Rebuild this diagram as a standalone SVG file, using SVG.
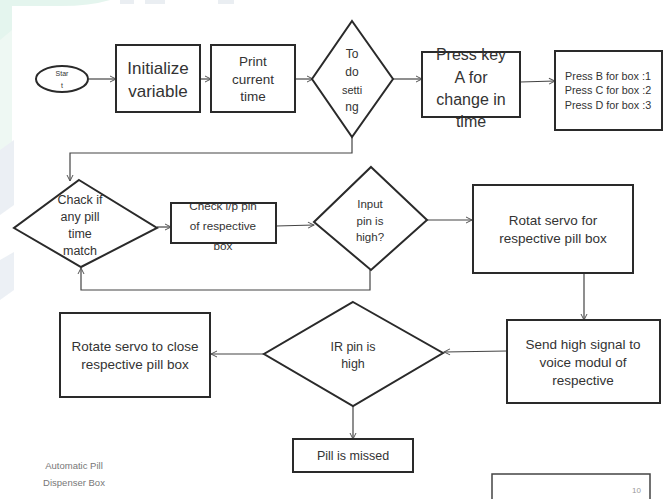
<svg xmlns="http://www.w3.org/2000/svg" width="668" height="499" viewBox="0 0 668 499">
<defs>
<marker id="ah" markerWidth="8" markerHeight="8" refX="7" refY="4" orient="auto" markerUnits="userSpaceOnUse">
<path d="M1,1 L7,4 L1,7" fill="none" stroke="#555" stroke-width="1"/>
</marker>
<style>
.n{fill:#fff;stroke:#2a2a2a;stroke-width:2}
.t{font-family:"Liberation Sans",Arial,sans-serif;fill:#333;text-anchor:middle}
.c{fill:none;stroke:#444;stroke-width:1.2}
.ca{fill:none;stroke:#444;stroke-width:1.2;marker-end:url(#ah)}
</style>
</defs>
<rect width="668" height="499" fill="#fff"/>
<g id="watermark" opacity="0.6">
<path d="M0,0 L110,0 Q90,6 60,6 L12,6 L12,60 L0,80 Z" fill="#d3efe3"/>
<path d="M0,40 L12,30 L12,160 L0,170 Z" fill="#e4f4ec"/>
<rect x="120" y="0" width="14" height="4" fill="#dde3ea"/>
<rect x="145" y="0" width="20" height="4" fill="#dde3ea"/>
<rect x="218" y="0" width="16" height="4" fill="#dde3ea"/>
<path d="M0,150 L14,140 L14,205 L0,215 Z" fill="#dfe6ee"/>
<path d="M0,260 L14,252 L14,290 L0,300 Z" fill="#dfe6ee"/>
</g>
<g id="connectors">
<path class="ca" d="M89,79 L116,79"/>
<path class="ca" d="M200,79 L211,79"/>
<path class="ca" d="M295,79 L313,79"/>
<path class="ca" d="M393,79 L422,79"/>
<path class="ca" d="M520,82 L555,81"/>
<path class="ca" d="M352,137 L352,153 L70,153 L70,181"/>
<path class="ca" d="M157,227 L171,227"/>
<path class="ca" d="M276,226 L314,225"/>
<path class="ca" d="M370,270 L370,290 L81,290 L81,268"/>
<path class="ca" d="M427,220 L472,220"/>
<path class="ca" d="M584,273 L584,320"/>
<path class="ca" d="M507,351 L444,352"/>
<path class="ca" d="M264,354 L211,354"/>
<path class="ca" d="M353,406 L353,439"/>
</g>
<g id="start">
<ellipse class="n" cx="62" cy="79" rx="26" ry="13"/>
<text class="t" x="62" y="76" font-size="7">Star</text>
<text class="t" x="62" y="88" font-size="7">t</text>
</g>
<g id="init">
<rect class="n" x="116" y="45" width="84" height="67"/>
<text class="t" x="158" y="74" font-size="17">Initialize</text>
<text class="t" x="158" y="97" font-size="17">variable</text>
</g>
<g id="print">
<rect class="n" x="211" y="45" width="84" height="67"/>
<text class="t" x="253" y="66" font-size="13.5">Print</text>
<text class="t" x="253" y="84" font-size="13.5">current</text>
<text class="t" x="253" y="101" font-size="13.5">time</text>
</g>
<g id="setting">
<polygon class="n" points="352,21 393,79 352,137 312,79"/>
<text class="t" x="352" y="58" font-size="12">To</text>
<text class="t" x="352" y="76" font-size="12">do</text>
<text class="t" x="352" y="94" font-size="11">setti</text>
<text class="t" x="352" y="111" font-size="12">ng</text>
</g>
<g id="presskey">
<rect class="n" x="422" y="52" width="98" height="65"/>
<text class="t" x="471" y="60" font-size="16">Press key</text>
<text class="t" x="471" y="83" font-size="16">A for</text>
<text class="t" x="471" y="105" font-size="16">change in</text>
<text class="t" x="471" y="127" font-size="16">time</text>
</g>
<g id="pressbox">
<rect class="n" x="555" y="51" width="107" height="79"/>
<text class="t" x="608" y="80" font-size="10.8">Press B for box :1</text>
<text class="t" x="608" y="94" font-size="10.8">Press C for box :2</text>
<text class="t" x="608" y="109" font-size="10.8">Press D for box :3</text>
</g>
<g id="checkmatch">
<polygon class="n" points="79,180 157,228 81,267 14,228"/>
<text class="t" x="80" y="204" font-size="12.5">Chack if</text>
<text class="t" x="80" y="221" font-size="12.5">any  pill</text>
<text class="t" x="80" y="238" font-size="12.5">time</text>
<text class="t" x="80" y="255" font-size="12.5">match</text>
</g>
<g id="checkpin">
<rect class="n" x="171" y="203" width="105" height="40"/>
<text class="t" x="223" y="210" font-size="11.7">Check i/p pin</text>
<text class="t" x="223" y="230" font-size="11.7">of respective</text>
<text class="t" x="223" y="250" font-size="11.7">box</text>
</g>
<g id="inputhigh">
<polygon class="n" points="371,167 427,220 371,270 314,222"/>
<text class="t" x="370" y="208" font-size="11.5">Input</text>
<text class="t" x="370" y="225" font-size="11.5">pin is</text>
<text class="t" x="370" y="241" font-size="11.5">high?</text>
</g>
<g id="rotat">
<rect class="n" x="473" y="185" width="160" height="88"/>
<text class="t" x="553" y="225" font-size="13.5">Rotat servo for</text>
<text class="t" x="553" y="243" font-size="13.5">respective pill box</text>
</g>
<g id="send">
<rect class="n" x="507" y="320" width="153" height="83"/>
<text class="t" x="583" y="349" font-size="13.5">Send high signal to</text>
<text class="t" x="583" y="367" font-size="13.5">voice modul of</text>
<text class="t" x="583" y="385" font-size="13.5">respective</text>
</g>
<g id="irpin">
<polygon class="n" points="353,302 443,353 353,406 264,354"/>
<text class="t" x="353" y="351" font-size="12.5">IR pin is</text>
<text class="t" x="353" y="368" font-size="12.5">high</text>
</g>
<g id="rotateclose">
<rect class="n" x="60" y="313" width="150" height="84"/>
<text class="t" x="135" y="351" font-size="13.5">Rotate servo to close</text>
<text class="t" x="135" y="369" font-size="13.5">respective pill box</text>
</g>
<g id="missed">
<rect class="n" x="293" y="439" width="120" height="33"/>
<text class="t" x="353" y="460" font-size="12.5">Pill is missed</text>
</g>
<g id="footer">
<text class="t" x="74" y="469" font-size="9.5" style="fill:#777">Automatic Pill</text>
<text class="t" x="74" y="486" font-size="9.5" style="fill:#777">Dispenser Box</text>
<path d="M492,499 L492,474 L650,474 L650,499" fill="#fff" stroke="#444" stroke-width="1.5"/>
<text x="641" y="493" font-size="8" font-family="Liberation Sans,Arial,sans-serif" fill="#999" text-anchor="end">10</text>
</g>
</svg>
